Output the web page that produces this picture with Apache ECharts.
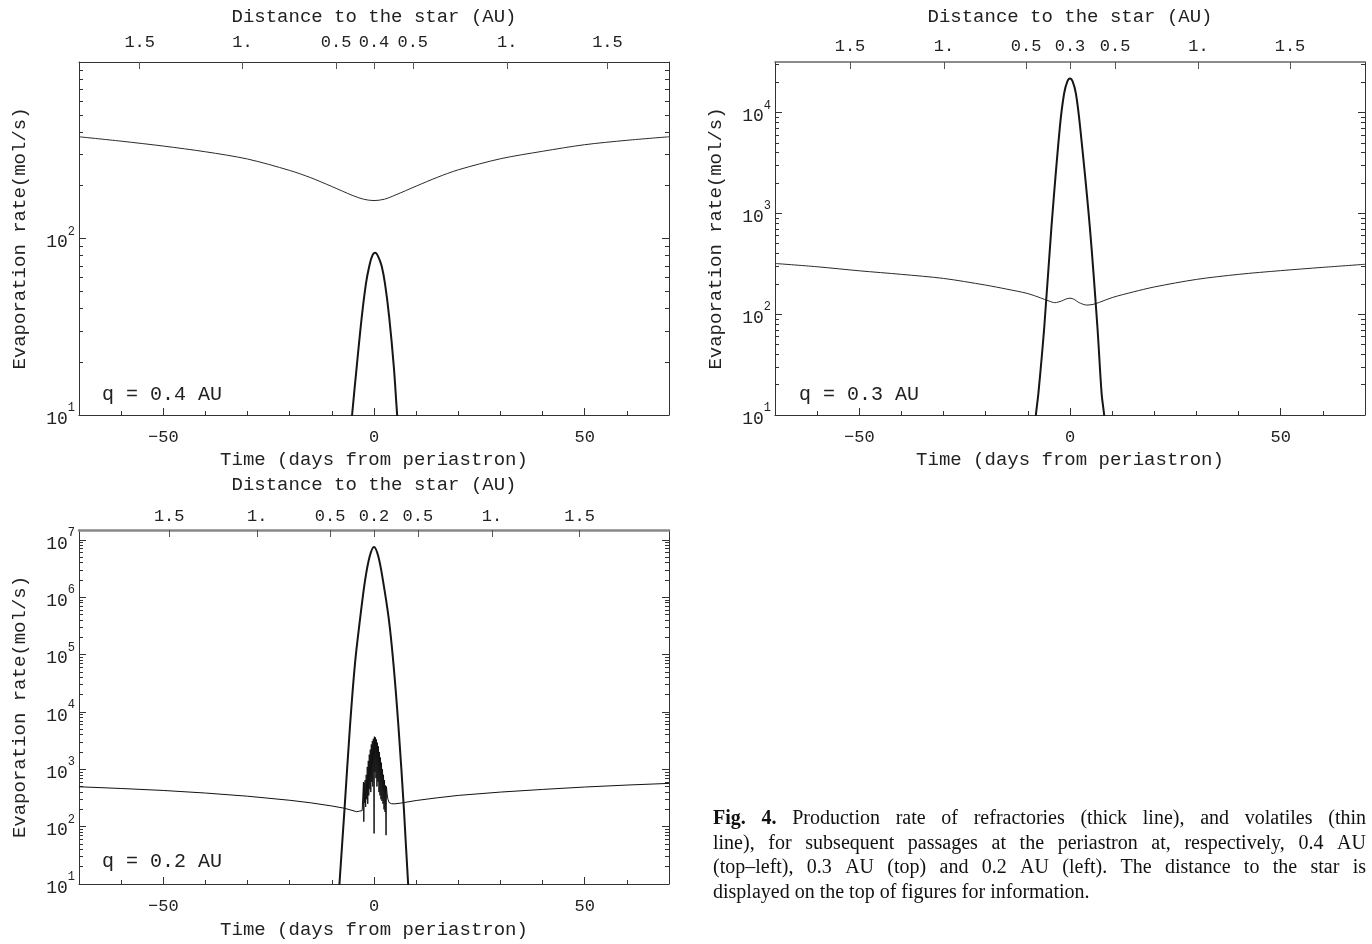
<!DOCTYPE html>
<html><head><meta charset="utf-8">
<script src="https://cdn.jsdelivr.net/npm/echarts@6/dist/echarts.min.js"></script>
<style>html,body{margin:0;padding:0;background:#fff}#c{width:1372px;height:944px}</style>
</head><body><div id="c"></div>
<script>
// ---------------- DATA ----------------
const timeLabelTicks = [-50, 0, 50];

// Panel q = 0.4 AU
const q04DistTicks = [-55.6, -31.2, -9.0, 0, 9.2, 31.6, 55.4];
const q04DistLabels = ['1.5', '1.', '0.5', '0.4', '0.5', '1.', '1.5'];
const q04VolT = [-70, -60, -50, -40, -30, -20, -15, -10, -5, -2.5, 0, 2.5, 5, 10, 15, 20, 30, 40, 50, 60, 70];
const q04VolV = [377, 356, 334, 310, 282, 243, 221, 197, 175, 167, 164, 167, 176, 198, 222, 245, 283, 312, 340, 360, 377];
const q04RefT = [-6, -5.2, -4.1, -2.9, -1.9, -1.1, -0.4, 0.3, 1, 1.8, 2.6, 3.6, 4.7, 5.5, 6.3];
const q04RefV = [6, 10, 18.8, 36, 55.7, 70, 80, 83, 79, 70, 55.7, 36, 18.8, 10, 6];

// Panel q = 0.3 AU
const q03DistTicks = [-52.2, -29.9, -10.4, 0, 10.7, 30.5, 52.2];
const q03DistLabels = ['1.5', '1.', '0.5', '0.3', '0.5', '1.', '1.5'];
const q03VolT = [-70, -60, -50, -40, -30, -20, -15, -10, -7, -5, -3.6, -2, -1, 0, 1, 2, 4, 5.5, 7, 10, 15, 20, 30, 40, 50, 60, 70];
const q03VolV = [318, 295, 269, 248, 226, 194, 177, 160, 145, 135, 130, 135, 141, 144, 140, 131, 123, 125, 131, 146, 166, 186, 221, 248, 270, 291, 312];
const q03RefT = [-9, -8.1, -7.5, -6.1, -4.4, -2.4, -1.4, -0.6, 0, 0.6, 1.4, 2.4, 4.7, 6.5, 7.5, 8.1, 9];
const q03RefV = [3.5, 10, 16.4, 75, 734, 7190, 15400, 20400, 21700, 20400, 15400, 7190, 734, 75, 16.4, 10, 3.5];

// Panel q = 0.2 AU
const q02DistTicks = [-48.6, -27.7, -10.4, 0, 10.4, 28.0, 48.8];
const q02DistLabels = ['1.5', '1.', '0.5', '0.2', '0.5', '1.', '1.5'];
const q02VolT = [-70, -60, -50, -40, -30, -20, -15, -10, -7, -4.1, -3.5, -3.1, -2.8,
  -2.6, -2.5, -2.42, -2.32, -2.22, -2.1, -1.98, -1.85, -1.72, -1.6, -1.48, -1.36, -1.24, -1.12, -1.0, -0.88, -0.76, -0.64, -0.52, -0.4, -0.28, -0.16, -0.05, 0.02,
  0.1, 0.22, 0.34, 0.46, 0.58, 0.7, 0.82, 0.94, 1.06, 1.18, 1.3, 1.42, 1.54, 1.66, 1.78, 1.9, 2.02, 2.14, 2.26, 2.38, 2.5, 2.62, 2.74, 2.86, 2.95,
  3.1, 3.3, 3.6, 4.2, 5, 6.2, 10, 15, 20, 30, 40, 50, 60, 70];
const q02VolV = [495, 462, 427, 385, 339, 288, 260, 229, 209, 182, 186, 195, 190,
  185, 600, 122, 580, 260, 650, 220, 800, 300, 1100, 250, 1400, 350, 1800, 450, 2200, 400, 2700, 600, 3100, 500, 3400, 800, 76,
  3700, 900, 3600, 700, 3300, 500, 2900, 600, 2500, 400, 2000, 350, 1600, 300, 1300, 280, 1000, 250, 800, 200, 650, 180, 520, 71, 500,
  380, 300, 262, 250, 250, 256, 285, 318, 350, 400, 445, 490, 530, 567];
const q02RefT = [-9, -8.2, -7, -5.7, -4.5, -3.3, -2.1, -1.0, 0, 1.0, 2.1, 3.5, 4.6, 5.8, 7.1, 8.1, 9];
const q02RefV = [1.26, 10, 200, 5600, 7.1e4, 4.2e5, 2.0e6, 5.2e6, 7.5e6, 5.2e6, 2.0e6, 4.2e5, 7.1e4, 5600, 200, 10, 1.26];

const panelLabels = ['q = 0.4 AU', 'q = 0.3 AU', 'q = 0.2 AU'];
const yMaxExp = [3, 4.5, 7.17];
const yLabelExp = [[1, 2], [1, 2, 3, 4], [1, 2, 3, 4, 5, 6, 7]];

const captionLines = [
  'Fig. 4. Production rate of refractories (thick line), and volatiles (thin',
  'line), for subsequent passages at the periastron at, respectively, 0.4 AU',
  '(top\u2013left), 0.3 AU (top) and 0.2 AU (left). The distance to the star is',
  'displayed on the top of figures for information.'
];

// ---------------- LAYOUT / STYLE ----------------
const FONT = 'Liberation Mono';
const TXT = '#222';
const AX = '#333';

const panels = [
  { grid: {left: 79, top: 62, width: 590, height: 353}, dist: q04DistTicks, distL: q04DistLabels,
    vol: [q04VolT, q04VolV], ref: [q04RefT, q04RefV], volSmooth: 0.3, volColor: '#2a2a2a',
    bMargin: 14, bGap: 35, tMargin: 11, tGap: 36, topLine: {color: AX, width: 1}, q: [102, 395] },
  { grid: {left: 775, top: 62, width: 590, height: 353}, dist: q03DistTicks, distL: q03DistLabels,
    vol: [q03VolT, q03VolV], ref: [q03RefT, q03RefV], volSmooth: 0.3, volColor: '#2a2a2a',
    bMargin: 14, bGap: 35, tMargin: 7, tGap: 36, topLine: {color: '#666', width: 1.5}, q: [799, 395] },
  { grid: {left: 79, top: 530, width: 590, height: 354}, dist: q02DistTicks, distL: q02DistLabels,
    vol: [q02VolT, q02VolV], ref: [q02RefT, q02RefV], volSmooth: false, volColor: '#111',
    bMargin: 14, bGap: 36, tMargin: 5, tGap: 36, topLine: {color: '#888', width: 2.5}, q: [102, 862] }
];

const grids = [], xAxes = [], yAxes = [], series = [], graphics = [];
const nameStyle = {fontFamily: FONT, fontSize: 19, color: TXT};
const tickLblStyle = {fontFamily: FONT, fontSize: 17, color: TXT};

panels.forEach((p, i) => {
  grids.push(Object.assign({containLabel: false, outerBoundsMode: 'none'}, p.grid));
  const xb = xAxes.length, yb = yAxes.length;
  xAxes.push({
    gridIndex: i, type: 'value', position: 'bottom', min: -70, max: 70, interval: 10,
    axisLine: {show: true, onZero: false, lineStyle: {color: AX, width: 1}},
    axisTick: {show: true, inside: true, length: 4, lineStyle: {color: AX}},
    axisLabel: Object.assign({show: true, customValues: timeLabelTicks, margin: p.bMargin,
      formatter: v => (v < 0 ? '\u2212' + (-v) : String(v))}, tickLblStyle),
    splitLine: {show: false},
    name: 'Time (days from periastron)', nameLocation: 'middle', nameGap: p.bGap, nameTextStyle: nameStyle
  });
  xAxes.push({
    gridIndex: i, type: 'value', position: 'bottom', min: -70, max: 70,
    axisLine: {show: false, onZero: false},
    axisTick: {show: true, inside: true, length: 7, customValues: timeLabelTicks, lineStyle: {color: AX}},
    axisLabel: {show: false}, splitLine: {show: false}
  });
  xAxes.push({
    gridIndex: i, type: 'value', position: 'top', min: -70, max: 70,
    axisLine: {show: true, onZero: false, lineStyle: p.topLine},
    axisTick: {show: true, inside: true, length: 7, customValues: p.dist, lineStyle: {color: '#555'}},
    axisLabel: Object.assign({show: true, customValues: p.dist, margin: p.tMargin,
      formatter: v => {
        let best = 0, bd = 1e9;
        p.dist.forEach((d, k) => { if (Math.abs(d - v) < bd) { bd = Math.abs(d - v); best = k; } });
        return p.distL[best];
      }}, tickLblStyle),
    splitLine: {show: false},
    name: 'Distance to the star (AU)', nameLocation: 'middle', nameGap: p.tGap, nameTextStyle: nameStyle
  });

  const ymax = yMaxExp[i];
  const majors = [];
  for (let e = 1; e <= Math.floor(ymax); e++) majors.push(e);
  const minors = [];
  for (let e = 1; e <= Math.floor(ymax); e++) {
    for (let k = 2; k <= 9; k++) {
      const lv = Math.log10(k * Math.pow(10, e));
      if (lv < ymax) minors.push(lv);
    }
  }
  const rich = {
    b: {fontFamily: FONT, fontSize: 18, color: TXT, lineHeight: 26, verticalAlign: 'bottom'},
    s: {fontFamily: FONT, fontSize: 12, color: TXT, lineHeight: 26, verticalAlign: 'top'}
  };
  yAxes.push({
    gridIndex: i, type: 'value', position: 'left', min: 1, max: ymax,
    axisLine: {show: true, onZero: false, lineStyle: {color: AX, width: 1}},
    axisTick: {show: true, inside: true, length: 7, customValues: majors, lineStyle: {color: AX}},
    axisLabel: {show: true, customValues: yLabelExp[i], margin: 4,
      formatter: v => '{b|10}{s|' + Math.round(v) + '}', rich: rich},
    splitLine: {show: false},
    name: 'Evaporation rate(mol/s)', nameLocation: 'middle', nameGap: 50, nameRotate: 90, nameTextStyle: nameStyle
  });
  yAxes.push({
    gridIndex: i, type: 'value', position: 'left', min: 1, max: ymax,
    axisLine: {show: false, onZero: false},
    axisTick: {show: true, inside: true, length: 4, customValues: minors, lineStyle: {color: AX}},
    axisLabel: {show: false}, splitLine: {show: false}
  });
  yAxes.push({
    gridIndex: i, type: 'value', position: 'right', min: 1, max: ymax,
    axisLine: {show: true, onZero: false, lineStyle: {color: AX, width: 1}},
    axisTick: {show: true, inside: true, length: 7, customValues: majors, lineStyle: {color: AX}},
    axisLabel: {show: false}, splitLine: {show: false}
  });
  yAxes.push({
    gridIndex: i, type: 'value', position: 'right', min: 1, max: ymax,
    axisLine: {show: false, onZero: false},
    axisTick: {show: true, inside: true, length: 4, customValues: minors, lineStyle: {color: AX}},
    axisLabel: {show: false}, splitLine: {show: false}
  });

  const toData = (T, V) => T.map((t, k) => [t, Math.log10(V[k])]);
  series.push({
    type: 'line', xAxisIndex: xb, yAxisIndex: yb, data: toData(p.vol[0], p.vol[1]),
    symbol: 'none', smooth: p.volSmooth, clip: true, silent: true,
    lineStyle: {color: p.volColor, width: 1}
  });
  series.push({
    type: 'line', xAxisIndex: xb, yAxisIndex: yb, data: toData(p.ref[0], p.ref[1]),
    symbol: 'none', smooth: 0.35, clip: true, silent: true,
    lineStyle: {color: '#161616', width: 2}
  });

  graphics.push({
    type: 'text', x: p.q[0], y: p.q[1], silent: true,
    style: {text: panelLabels[i], fontFamily: FONT, fontSize: 20, fill: TXT, verticalAlign: 'middle', align: 'left'}
  });
});

// caption (justified)
const mctx = document.createElement('canvas').getContext('2d');
function tw(s, bold, fs) { mctx.font = (bold ? 'bold ' : '') + fs + 'px "Liberation Serif"'; return mctx.measureText(s).width; }
const capX0 = 713, capX1 = 1366, capY = [819, 843.5, 868, 892.5];
let natMax = 0;
captionLines.slice(0, 3).forEach((line, li) => {
  const words = line.split(' ');
  let w = 0;
  words.forEach((wd, k) => { w += tw(wd, li === 0 && k < 2, 100); });
  w += (words.length - 1) * tw(' ', false, 100);
  natMax = Math.max(natMax, w);
});
let capFs = 100 * 640 / natMax;
capFs = Math.max(14, Math.min(20, capFs));
captionLines.forEach((line, li) => {
  const words = line.split(' ');
  const bolds = words.map((w, k) => li === 0 && k < 2);
  const ws = words.map((w, k) => tw(w, bolds[k], capFs));
  const sum = ws.reduce((a, b) => a + b, 0);
  let gap = tw(' ', false, capFs);
  if (li < captionLines.length - 1) gap = Math.max(2, (capX1 - capX0 - sum) / (words.length - 1));
  let x = capX0;
  words.forEach((w, k) => {
    graphics.push({
      type: 'text', x: x, y: capY[li], silent: true,
      style: {text: w, fontFamily: 'Liberation Serif', fontSize: capFs, fontWeight: bolds[k] ? 'bold' : 'normal',
        fill: '#111', verticalAlign: 'middle', align: 'left'}
    });
    x += ws[k] + gap;
  });
});

const chart = echarts.init(document.getElementById('c'), null, {renderer: 'canvas'});
chart.setOption({
  animation: false,
  backgroundColor: '#ffffff',
  grid: grids,
  xAxis: xAxes,
  yAxis: yAxes,
  series: series,
  graphic: graphics
});
</script>
</body></html>
